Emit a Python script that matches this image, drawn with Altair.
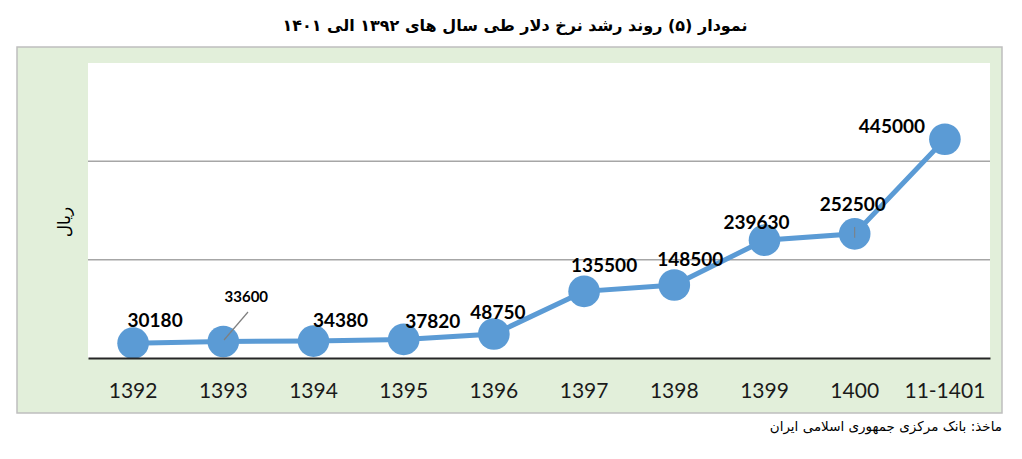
import altair as alt
import pandas as pd

years = ["1392", "1393", "1394", "1395", "1396", "1397", "1398", "1399", "1400", "11-1401"]
values = [30180, 33600, 34380, 37820, 48750, 135500, 148500, 239630, 252500, 445000]
grid_values = [200000, 400000]

# label placement (pixel offsets from each point), style only
label_dx = [22, 23, 27, 29, 4, 20, 16, -8, -2, -53]
label_dy = [-22, -44, -20, -17, -21, -25, -25, -17, -29, -12]
label_size = [19, 15, 19, 19, 19, 19, 19, 19, 19, 19]

title_text = "نمودار (۵) روند رشد نرخ دلار  طی سال های ۱۳۹۲ الی ۱۴۰۱"
source_text = "ماخذ: بانک مرکزی جمهوری اسلامی ایران"
y_title = "ریال"

W, H = 902, 295
BLUE = "#5B9BD5"

df = pd.DataFrame({"year": years, "value": values})
one = pd.DataFrame({"k": [0]})

x_enc = alt.X("year:N", sort=years,
              scale=alt.Scale(paddingInner=0, paddingOuter=0),
              axis=alt.Axis(title=None, labelAngle=0, ticks=False, labelFont="Lato",
                            labelFontSize=21, labelColor="#1a1a1a", labelPadding=22,
                            domainColor="#262626", domainWidth=2, zindex=1))
y_scale = alt.Scale(domain=[0, 600000], nice=False, zero=True)
y_enc = alt.Y("value:Q", scale=y_scale, axis=None)

green = alt.Chart(one).mark_rect(fill="#E2EFDA", stroke="#BFBFBF", strokeWidth=1.5).encode(
    x=alt.value(-71), x2=alt.value(914), y=alt.value(-16), y2=alt.value(350))
white = alt.Chart(one).mark_rect(fill="white").encode(
    x=alt.value(0), x2=alt.value(W), y=alt.value(0), y2=alt.value(H))

grid = alt.Chart(pd.DataFrame({"g": grid_values})).mark_rule(color="#A6A6A6", strokeWidth=1.5).encode(
    y=alt.Y("g:Q", scale=y_scale, axis=None), x=alt.value(0), x2=alt.value(W))

base = alt.Chart(df)
line = base.mark_line(color=BLUE, strokeWidth=5).encode(x=x_enc, y=y_enc)
pts = base.mark_circle(color=BLUE, size=1000, opacity=1).encode(x=x_enc, y=y_enc)

leader1 = alt.Chart(one).mark_rule(color="#7F7F7F", strokeWidth=1.2).encode(
    x=alt.value(136), y=alt.value(277), x2=alt.value(160), y2=alt.value(249))
leader2 = base.transform_filter(alt.datum.year == "1400").transform_calculate(
    top="datum.value + 14000", bot="datum.value - 8000").mark_rule(
    color="#7F7F7F", strokeWidth=1).encode(x=x_enc, y=alt.Y("top:Q", scale=y_scale, axis=None),
                                           y2="bot:Q")

labels = []
for i, yr in enumerate(years):
    labels.append(base.transform_filter(alt.datum.year == yr).mark_text(
        font="Lato", fontWeight="bold", fontSize=label_size[i], color="black",
        dx=label_dx[i], dy=label_dy[i], align="center", baseline="middle").encode(
        x=x_enc, y=y_enc, text=alt.Text("value:Q", format="d")))

title = alt.Chart(one).mark_text(text=title_text, font="DejaVu Sans", fontWeight="bold",
                                 fontSize=16, color="black", align="center",
                                 baseline="middle").encode(x=alt.value(427), y=alt.value(-37))
source = alt.Chart(one).mark_text(text=source_text, font="DejaVu Sans", fontSize=13.5,
                                  color="black", align="right",
                                  baseline="middle").encode(x=alt.value(914), y=alt.value(364))
ytitle = alt.Chart(one).mark_text(text=y_title, font="DejaVu Sans", fontSize=17,
                                  color="black", align="center", angle=270,
                                  baseline="middle").encode(x=alt.value(-23), y=alt.value(159))

chart = alt.layer(green, white, grid, line, pts, leader1, leader2, *labels, title, source, ytitle).properties(
    width=W, height=H,
    autosize=alt.AutoSizeParams(type="none"),
    padding={"left": 80, "top": 55, "right": 16, "bottom": 85},
).configure_view(stroke=None).configure(background="white")

chart.save("out.html", embed_options={"renderer": "svg", "actions": False})
